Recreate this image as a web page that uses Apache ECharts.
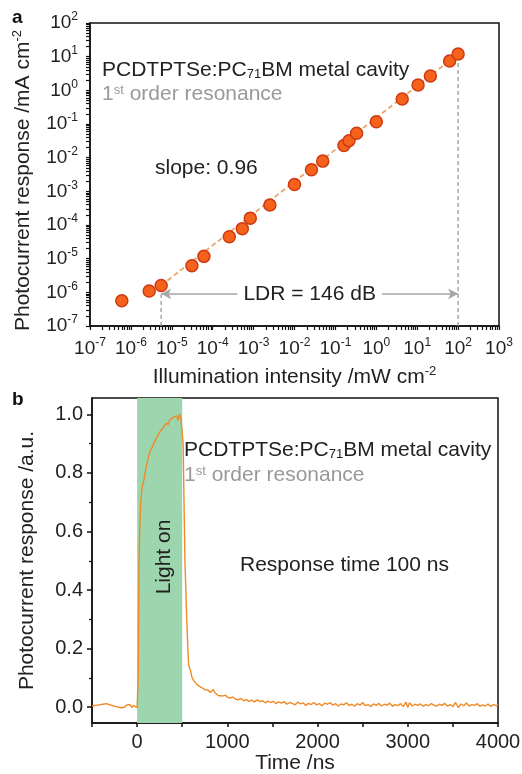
<!DOCTYPE html>
<html>
<head>
<meta charset="utf-8">
<script src="https://cdn.jsdelivr.net/npm/echarts@6.0.0/dist/echarts.min.js"></script>
<style>
  html, body { margin: 0; padding: 0; background: #fff; }
  #main { width: 522px; height: 774px; }
</style>
</head>
<body>
<div id="main"></div>
<script>
// panel a: photocurrent vs illumination (log-log)
var intensity = [6.0e-7, 2.8e-6, 5.5e-6, 3.1e-5, 6.1e-5, 2.55e-4, 5.3e-4, 8.3e-4, 2.5e-3, 1.0e-2,
  2.6e-2, 4.9e-2, 0.162, 0.215, 0.33, 1.0, 4.3, 10.5, 21, 62, 100];
var photocurrent = [5.6e-7, 1.1e-6, 1.6e-6, 6.2e-6, 1.17e-5, 4.5e-5, 7.8e-5, 1.6e-4, 3.9e-4, 1.6e-3,
  4.4e-3, 7.9e-3, 2.3e-2, 3.2e-2, 5.3e-2, 0.117, 0.55, 1.44, 2.67, 7.4, 12];
var fitX = [5.5e-6, 100];
var fitY = [1.6e-6, 12];
var ldrX = [5.5e-6, 100];
var ldrY = 9e-7;
var decadesX = [-7, -6, -5, -4, -3, -2, -1, 0, 1, 2, 3];
var decadesY = [-7, -6, -5, -4, -3, -2, -1, 0, 1, 2];

// panel b: transient response
var lightOn = [0, 500];
var trace = [
  [-500, 0.004], [-480, 0.000], [-460, 0.006], [-440, 0.002], [-420, 0.008], [-400, 0.003],
  [-380, 0.010], [-360, 0.005], [-340, 0.012], [-320, 0.016], [-300, 0.008], [-280, 0.011],
  [-260, 0.004], [-240, 0.007], [-220, 0.001], [-200, 0.006], [-180, -0.002], [-160, 0.004],
  [-140, 0.000], [-120, 0.007], [-100, 0.002], [-80, 0.009], [-60, -0.001], [-40, 0.006],
  [-20, 0.001], [0, -0.002], [8, 0.002],
  [12, 0.10], [16, 0.30], [22, 0.50], [30, 0.62], [40, 0.70], [55, 0.75], [78, 0.78],
  [100, 0.82], [122, 0.85], [140, 0.87], [160, 0.875], [178, 0.895], [200, 0.90], [215, 0.92],
  [235, 0.93], [252, 0.94], [270, 0.935], [290, 0.955], [310, 0.96], [322, 0.97], [345, 0.965],
  [360, 0.98], [380, 0.975], [400, 0.99], [420, 0.985], [440, 0.995], [455, 0.98], [470, 1.0],
  [485, 0.99], [500, 0.985],
  [510, 0.90], [520, 0.70], [530, 0.50], [545, 0.35], [560, 0.22], [570, 0.15], [580, 0.135],
  [595, 0.12], [610, 0.10], [630, 0.09], [650, 0.085], [670, 0.075], [690, 0.072], [710, 0.068],
  [730, 0.065], [750, 0.060], [770, 0.055], [790, 0.058], [810, 0.050], [830, 0.047], [845, 0.060],
  [860, 0.050], [880, 0.044], [900, 0.040], [920, 0.045], [940, 0.038], [960, 0.036], [980, 0.041],
  [1000, 0.034], [1030, 0.031], [1060, 0.035], [1090, 0.028], [1120, 0.025], [1150, 0.030],
  [1180, 0.022], [1210, 0.026], [1240, 0.020], [1270, 0.024], [1300, 0.018], [1330, 0.025],
  [1360, 0.019], [1390, 0.022], [1420, 0.015], [1450, 0.021], [1480, 0.016], [1510, 0.020],
  [1540, 0.012], [1570, 0.018], [1600, 0.014], [1630, 0.019], [1660, 0.010], [1690, 0.016],
  [1720, 0.013], [1750, 0.008], [1780, 0.017], [1810, 0.011], [1840, 0.015], [1870, 0.006],
  [1900, 0.013], [1930, 0.009], [1960, 0.016], [1990, 0.008], [2020, 0.012], [2050, 0.005],
  [2080, 0.014], [2110, 0.010], [2140, 0.016], [2170, 0.007], [2200, 0.012], [2230, 0.004],
  [2260, 0.011], [2290, 0.008], [2320, 0.015], [2350, 0.006], [2380, 0.010], [2410, 0.003],
  [2440, 0.012], [2470, 0.007], [2500, 0.016], [2530, 0.005], [2560, 0.009], [2590, 0.002],
  [2620, 0.011], [2650, 0.006], [2680, 0.013], [2710, 0.004], [2740, 0.010], [2770, 0.007],
  [2800, 0.014], [2830, 0.003], [2860, 0.009], [2890, 0.005], [2920, 0.012], [2950, 0.002],
  [2980, 0.017], [3000, -0.001], [3020, 0.015], [3050, 0.004], [3080, 0.010], [3110, 0.006],
  [3140, 0.011], [3170, 0.003], [3200, 0.009], [3230, 0.005], [3260, 0.012], [3290, 0.007],
  [3320, 0.003], [3350, 0.010], [3380, 0.006], [3410, 0.013], [3440, 0.004], [3470, 0.009],
  [3500, 0.002], [3530, 0.016], [3560, -0.001], [3590, 0.011], [3620, 0.005], [3650, 0.014],
  [3680, 0.004], [3710, 0.009], [3740, 0.006], [3770, 0.012], [3800, 0.003], [3830, 0.008],
  [3860, 0.004], [3890, 0.011], [3920, 0.002], [3950, 0.009], [3980, 0.005], [4000, 0.007]
];
var timeLabels = [0, 1000, 2000, 3000, 4000];
var respLabels = [0, 0.2, 0.4, 0.6, 0.8, 1.0];
var respMinor = [0.1, 0.3, 0.5, 0.7, 0.9];

var font = 'Liberation Sans, Arial, sans-serif';
var ink = '#222';

// grid boxes (px)
var gA = { left: 90, top: 23, right: 23, bottom: 448 };
var gB = { left: 92, top: 398, right: 24, bottom: 51 };
var W = 522;

function pow10(list) {
  return list.map(function (e) { return Math.pow(10, e); });
}
// 1..9 x 10^n: decade ticks plus the log minor ticks between them
function logTicks(list) {
  var out = [];
  for (var i = 0; i < list.length; i++) {
    var base = Math.pow(10, list[i]);
    out.push(base);
    if (i < list.length - 1) {
      for (var k = 2; k <= 9; k++) out.push(k * base);
    }
  }
  return out;
}
function expLabel(v) {
  var e = Math.round(Math.log(v) / Math.LN10);
  return '{b|10}{s|' + e + '}';
}
var supRich = {
  b: { fontSize: 19, fontFamily: font, color: ink, lineHeight: 24 },
  s: { fontSize: 12, fontFamily: font, color: ink, lineHeight: 13, verticalAlign: 'top' }
};
var nameRich = { s: { fontSize: 13, lineHeight: 13, verticalAlign: 'top', color: ink, fontFamily: font } };
var blackLine = { onZero: false, lineStyle: { color: '#111', width: 1.5 } };
var noLine = { show: false, onZero: false };

var myChart = echarts.init(document.getElementById('main'));

var option = {
  animation: false,
  textStyle: { fontFamily: font },
  grid: [
    { left: gA.left, top: gA.top, right: gA.right, bottom: gA.bottom, outerBoundsMode: 'none',
      show: true, borderColor: '#111', borderWidth: 1.5 },
    { left: gB.left, top: gB.top, right: gB.right, bottom: gB.bottom, outerBoundsMode: 'none',
      show: true, borderColor: '#111', borderWidth: 1.5 }
  ],
  xAxis: [
    {
      gridIndex: 0, type: 'log', min: 1e-7, max: 1e3, position: 'bottom',
      name: 'Illumination intensity /mW cm{s|-2}', nameLocation: 'middle', nameGap: 39,
      nameTextStyle: { fontSize: 21, color: ink, lineHeight: 24, rich: nameRich },
      axisLine: blackLine,
      axisTick: { length: 4, lineStyle: { color: '#111', width: 1.2 }, customValues: logTicks(decadesX) },
      axisLabel: { margin: 11, formatter: expLabel, rich: supRich, customValues: pow10(decadesX) },
      splitLine: { show: false }
    },
    {
      gridIndex: 1, type: 'value', min: -500, max: 4000, interval: 500, position: 'bottom',
      name: 'Time /ns', nameLocation: 'middle', nameGap: 30,
      nameTextStyle: { fontSize: 21, color: ink },
      axisLine: blackLine,
      axisTick: { length: 4, lineStyle: { color: '#111', width: 1.5 } },
      axisLabel: { fontSize: 20, color: ink, margin: 9, customValues: timeLabels,
        formatter: function (v) { return String(v); } },
      splitLine: { show: false }
    }
  ],
  yAxis: [
    {
      gridIndex: 0, type: 'log', min: 1e-7, max: 1e2, position: 'left',
      name: 'Photocurrent response /mA cm{s|-2}', nameLocation: 'middle', nameGap: 46,
      nameTextStyle: { fontSize: 21, color: ink, lineHeight: 24, rich: nameRich, padding: [0, 12, 0, 0] },
      axisLine: blackLine,
      axisTick: { length: 4, lineStyle: { color: '#111', width: 1.2 }, customValues: logTicks(decadesY) },
      axisLabel: { margin: 12, formatter: expLabel, rich: supRich, customValues: pow10(decadesY) },
      splitLine: { show: false }
    },
    {
      gridIndex: 1, type: 'value', min: -0.054, max: 1.056, position: 'left',
      name: 'Photocurrent response /a.u.', nameLocation: 'middle', nameGap: 54,
      nameTextStyle: { fontSize: 21, color: ink },
      axisLine: blackLine,
      axisTick: { length: 5, lineStyle: { color: '#111', width: 1.5 }, customValues: respLabels },
      axisLabel: { fontSize: 20, color: ink, margin: 9, customValues: respLabels,
        formatter: function (v) { return v.toFixed(1); } },
      splitLine: { show: false }
    },
    {
      gridIndex: 1, type: 'value', min: -0.054, max: 1.056, position: 'right',
      offset: -(W - gB.left - gB.right),
      axisLine: noLine,
      axisTick: { inside: true, length: 3, lineStyle: { color: '#111', width: 1.3 }, customValues: respMinor },
      axisLabel: { show: false },
      splitLine: { show: false }
    }
  ],
  series: [
    {
      // slope fit, dashed
      type: 'line', xAxisIndex: 0, yAxisIndex: 0, z: 2,
      data: [[fitX[0], fitY[0]], [fitX[1], fitY[1]]],
      showSymbol: false, silent: true,
      lineStyle: { color: '#eba56a', width: 1.8, type: [5, 3] }
    },
    {
      // LDR bounds and arrow
      type: 'line', xAxisIndex: 0, yAxisIndex: 0, z: 1,
      data: [[ldrX[0], 1e-7], [ldrX[0], fitY[0]]],
      showSymbol: false, silent: true,
      lineStyle: { color: '#999', width: 1.3, type: [4, 3] },
      markLine: {
        silent: true, symbol: ['arrow', 'arrow'], symbolSize: [8, 10],
        lineStyle: { color: '#a6a6a6', width: 1.5, type: 'solid' },
        label: {
          show: true, position: 'insideMiddle', formatter: 'LDR = 146 dB', distance: 0,
          fontSize: 21, color: ink, backgroundColor: '#fff', padding: [2, 6]
        },
        data: [[{ coord: [ldrX[0], ldrY] }, { coord: [ldrX[1], ldrY] }]]
      }
    },
    {
      type: 'line', xAxisIndex: 0, yAxisIndex: 0, z: 1,
      data: [[ldrX[1], 1e-7], [ldrX[1], fitY[1]]],
      showSymbol: false, silent: true,
      lineStyle: { color: '#999', width: 1.3, type: [4, 3] }
    },
    {
      type: 'scatter', xAxisIndex: 0, yAxisIndex: 0, z: 5,
      data: intensity.map(function (x, i) { return [x, photocurrent[i]]; }),
      symbolSize: 12,
      itemStyle: { color: '#f5621c', borderColor: '#cf3a12', borderWidth: 1.5, opacity: 1 }
    },
    {
      type: 'line', xAxisIndex: 1, yAxisIndex: 1,
      data: trace, showSymbol: false, silent: true,
      lineStyle: { color: '#f08a26', width: 1.4 },
      markArea: {
        silent: true,
        itemStyle: { color: '#9dd5ae' },
        data: [[{ xAxis: lightOn[0] }, { xAxis: lightOn[1] }]]
      }
    }
  ],
  graphic: [
    { type: 'text', left: 12, top: 8, style: { text: 'a', font: 'bold 19px ' + font, fill: '#111' } },
    { type: 'text', left: 12, top: 390, style: { text: 'b', font: 'bold 19px ' + font, fill: '#111' } },
    {
      type: 'text', left: 102, top: 60,
      style: {
        text: 'PCDTPTSe:PC{sub|71}BM metal cavity', font: '21px ' + font, fill: ink,
        rich: { sub: { fontSize: 13, verticalAlign: 'bottom', lineHeight: 13, fill: ink, fontFamily: font } }
      }
    },
    {
      type: 'text', left: 102, top: 84,
      style: {
        text: '1{sup|st} order resonance', font: '21px ' + font, fill: '#999',
        rich: { sup: { fontSize: 13, verticalAlign: 'top', lineHeight: 13, fill: '#999', fontFamily: font } }
      }
    },
    { type: 'text', left: 155, top: 158, style: { text: 'slope: 0.96', font: '21px ' + font, fill: ink } },
    {
      type: 'text', left: 184, top: 440,
      style: {
        text: 'PCDTPTSe:PC{sub|71}BM metal cavity', font: '21px ' + font, fill: ink,
        rich: { sub: { fontSize: 13, verticalAlign: 'bottom', lineHeight: 13, fill: ink, fontFamily: font } }
      }
    },
    {
      type: 'text', left: 184, top: 465,
      style: {
        text: '1{sup|st} order resonance', font: '21px ' + font, fill: '#999',
        rich: { sup: { fontSize: 13, verticalAlign: 'top', lineHeight: 13, fill: '#999', fontFamily: font } }
      }
    },
    { type: 'text', left: 240, top: 555, style: { text: 'Response time 100 ns', font: '21px ' + font, fill: ink } },
    {
      type: 'text', x: 164, y: 557, rotation: Math.PI / 2, z: 10,
      style: { text: 'Light on', font: '21px ' + font, fill: ink, align: 'center', verticalAlign: 'middle' }
    }
  ]
};

myChart.setOption(option);
</script>
</body>
</html>
